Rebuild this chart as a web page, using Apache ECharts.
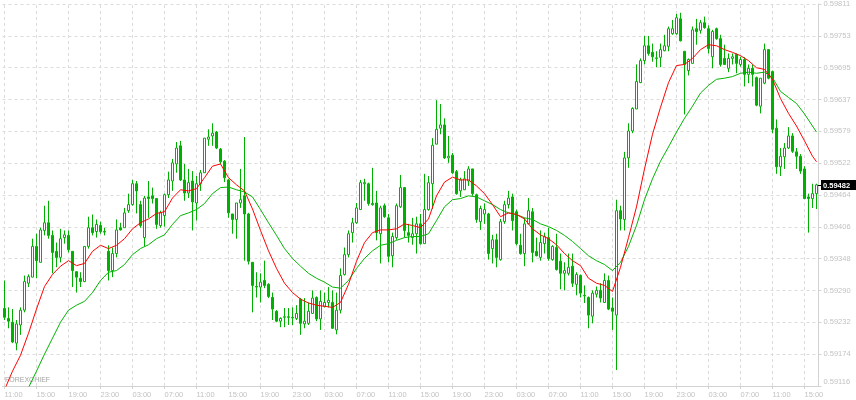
<!DOCTYPE html>
<html><head><meta charset="utf-8">
<script src="https://cdn.jsdelivr.net/npm/echarts@6/dist/echarts.min.js"></script>
<style>html,body{margin:0;padding:0;background:#fff}#c{width:856px;height:400px}</style>
</head><body><div id="c"></div>
<script>
// 30-minute bars, first bar 11:00
const opens = [
0.59257,0.59239,0.59232,0.59194,0.59227,0.59254,0.59303,0.59314,0.59370,0.59341,
0.59399,0.59413,0.59390,0.59361,0.59350,0.59386,0.59390,0.59361,0.59324,0.59312,
0.59306,0.59370,0.59404,0.59397,0.59408,0.59397,0.59361,0.59326,0.59357,0.59404,
0.59404,0.59435,0.59446,0.59484,0.59446,0.59386,0.59460,0.59462,0.59457,0.59408,
0.59426,0.59464,0.59489,0.59520,0.59553,0.59491,0.59467,0.59489,0.59449,0.59484,
0.59504,0.59565,0.59571,0.59578,0.59547,0.59525,0.59491,0.59429,0.59419,0.59449,
0.59462,0.59429,0.59341,0.59297,0.59296,0.59308,0.59301,0.59277,0.59252,0.59234,
0.59241,0.59242,0.59241,0.59239,0.59274,0.59229,0.59230,0.59248,0.59277,0.59238,
0.59261,0.59268,0.59268,0.59218,0.59254,0.59319,0.59355,0.59395,0.59413,0.59437,
0.59484,0.59484,0.59448,0.59449,0.59393,0.59444,0.59422,0.59353,0.59386,0.59442,
0.59477,0.59395,0.59386,0.59393,0.59411,0.59375,0.59437,0.59484,0.59556,0.59585,
0.59591,0.59531,0.59536,0.59506,0.59471,0.59473,0.59489,0.59511,0.59464,0.59415,
0.59429,0.59429,0.59366,0.59382,0.59346,0.59415,0.59446,0.59460,0.59433,0.59372,
0.59357,0.59411,0.59433,0.59361,0.59350,0.59375,0.59386,0.59346,0.59368,0.59343,
0.59321,0.59321,0.59334,0.59301,0.59317,0.59281,0.59277,0.59243,0.59283,0.59290,
0.59268,0.59308,0.59258,0.59245,0.59435,0.59419,0.59531,0.59580,0.59620,0.59668,
0.59708,0.59735,0.59723,0.59712,0.59714,0.59726,0.59734,0.59757,0.59757,0.59784,
0.59725,0.59690,0.59703,0.59766,0.59763,0.59777,0.59766,0.59715,0.59766,0.59748,
0.59712,0.59694,0.59712,0.59719,0.59701,0.59710,0.59683,0.59694,0.59677,0.59625,
0.59667,0.59728,0.59688,0.59585,0.59515,0.59533,0.59549,0.59571,0.59542,0.59534,
0.59511,0.59460,0.59457,0.59466];
const closes = [
0.59241,0.59234,0.59196,0.59229,0.59254,0.59306,0.59315,0.59370,0.59344,0.59400,
0.59413,0.59390,0.59359,0.59350,0.59384,0.59391,0.59364,0.59326,0.59314,0.59306,
0.59370,0.59404,0.59395,0.59410,0.59397,0.59396,0.59326,0.59357,0.59400,0.59400,
0.59431,0.59446,0.59484,0.59471,0.59408,0.59458,0.59457,0.59457,0.59410,0.59431,
0.59464,0.59491,0.59522,0.59549,0.59491,0.59467,0.59486,0.59451,0.59484,0.59504,
0.59567,0.59569,0.59576,0.59549,0.59524,0.59495,0.59431,0.59419,0.59449,0.59455,
0.59429,0.59343,0.59299,0.59296,0.59305,0.59299,0.59279,0.59256,0.59234,0.59239,
0.59242,0.59241,0.59240,0.59248,0.59230,0.59234,0.59252,0.59276,0.59238,0.59270,
0.59268,0.59272,0.59221,0.59254,0.59317,0.59355,0.59393,0.59413,0.59440,0.59486,
0.59486,0.59448,0.59446,0.59395,0.59440,0.59424,0.59352,0.59388,0.59444,0.59477,
0.59399,0.59390,0.59393,0.59411,0.59375,0.59437,0.59486,0.59554,0.59583,0.59591,
0.59531,0.59534,0.59504,0.59466,0.59491,0.59493,0.59511,0.59466,0.59419,0.59439,
0.59437,0.59357,0.59382,0.59350,0.59415,0.59446,0.59458,0.59417,0.59375,0.59357,
0.59411,0.59435,0.59359,0.59353,0.59377,0.59388,0.59348,0.59370,0.59328,0.59321,
0.59326,0.59332,0.59303,0.59319,0.59285,0.59280,0.59245,0.59285,0.59290,0.59276,
0.59308,0.59256,0.59252,0.59435,0.59420,0.59531,0.59580,0.59621,0.59670,0.59708,
0.59735,0.59721,0.59715,0.59713,0.59728,0.59735,0.59766,0.59766,0.59786,0.59744,
0.59701,0.59710,0.59764,0.59761,0.59777,0.59768,0.59730,0.59761,0.59748,0.59701,
0.59701,0.59712,0.59715,0.59703,0.59710,0.59683,0.59694,0.59683,0.59627,0.59676,
0.59728,0.59676,0.59583,0.59515,0.59534,0.59549,0.59571,0.59543,0.59534,0.59507,
0.59457,0.59457,0.59466,0.59482];
const lows = [
0.59236,0.59221,0.59194,0.59181,0.59209,0.59250,0.59296,0.59314,0.59312,0.59341,
0.59390,0.59384,0.59321,0.59332,0.59341,0.59375,0.59359,0.59296,0.59286,0.59296,
0.59305,0.59366,0.59390,0.59386,0.59393,0.59390,0.59308,0.59314,0.59350,0.59399,
0.59404,0.59431,0.59444,0.59430,0.59404,0.59370,0.59422,0.59448,0.59402,0.59404,
0.59406,0.59458,0.59471,0.59504,0.59489,0.59453,0.59458,0.59399,0.59417,0.59471,
0.59504,0.59553,0.59553,0.59547,0.59520,0.59487,0.59422,0.59393,0.59384,0.59440,
0.59344,0.59337,0.59250,0.59277,0.59268,0.59294,0.59276,0.59236,0.59232,0.59223,
0.59223,0.59227,0.59227,0.59236,0.59209,0.59221,0.59227,0.59248,0.59234,0.59218,
0.59259,0.59259,0.59220,0.59210,0.59248,0.59317,0.59350,0.59377,0.59411,0.59437,
0.59453,0.59444,0.59444,0.59381,0.59339,0.59422,0.59341,0.59332,0.59382,0.59440,
0.59386,0.59377,0.59373,0.59357,0.59373,0.59375,0.59435,0.59438,0.59556,0.59574,
0.59529,0.59522,0.59502,0.59464,0.59460,0.59473,0.59480,0.59462,0.59413,0.59400,
0.59411,0.59346,0.59339,0.59332,0.59344,0.59411,0.59439,0.59399,0.59372,0.59355,
0.59334,0.59410,0.59341,0.59352,0.59344,0.59357,0.59344,0.59344,0.59326,0.59292,
0.59290,0.59317,0.59296,0.59281,0.59277,0.59267,0.59221,0.59230,0.59277,0.59268,
0.59267,0.59254,0.59218,0.59145,0.59399,0.59399,0.59513,0.59576,0.59620,0.59667,
0.59701,0.59717,0.59706,0.59696,0.59696,0.59725,0.59725,0.59755,0.59755,0.59743,
0.59610,0.59681,0.59703,0.59737,0.59757,0.59766,0.59721,0.59694,0.59746,0.59697,
0.59701,0.59687,0.59701,0.59685,0.59697,0.59661,0.59667,0.59661,0.59625,0.59612,
0.59665,0.59674,0.59576,0.59502,0.59498,0.59511,0.59547,0.59540,0.59511,0.59502,
0.59457,0.59395,0.59440,0.59438];
const highs = [
0.59308,0.59259,0.59256,0.59236,0.59259,0.59317,0.59319,0.59384,0.59393,0.59404,
0.59444,0.59453,0.59399,0.59377,0.59402,0.59399,0.59399,0.59361,0.59324,0.59323,
0.59370,0.59424,0.59428,0.59419,0.59415,0.59404,0.59372,0.59368,0.59419,0.59413,
0.59440,0.59466,0.59491,0.59489,0.59453,0.59462,0.59489,0.59477,0.59458,0.59435,
0.59466,0.59506,0.59529,0.59560,0.59562,0.59520,0.59511,0.59507,0.59498,0.59509,
0.59567,0.59583,0.59594,0.59580,0.59549,0.59527,0.59493,0.59429,0.59449,0.59511,
0.59569,0.59431,0.59341,0.59323,0.59321,0.59344,0.59303,0.59286,0.59254,0.59241,
0.59258,0.59258,0.59259,0.59263,0.59276,0.59276,0.59268,0.59290,0.59279,0.59290,
0.59286,0.59296,0.59290,0.59286,0.59330,0.59368,0.59399,0.59422,0.59449,0.59491,
0.59493,0.59486,0.59513,0.59471,0.59444,0.59448,0.59429,0.59395,0.59448,0.59500,
0.59478,0.59411,0.59422,0.59424,0.59429,0.59502,0.59498,0.59567,0.59636,0.59629,
0.59603,0.59571,0.59540,0.59509,0.59495,0.59507,0.59516,0.59511,0.59466,0.59444,
0.59448,0.59431,0.59391,0.59393,0.59420,0.59453,0.59471,0.59466,0.59437,0.59393,
0.59422,0.59458,0.59440,0.59386,0.59399,0.59395,0.59404,0.59372,0.59393,0.59357,
0.59341,0.59357,0.59357,0.59323,0.59319,0.59299,0.59279,0.59290,0.59297,0.59303,
0.59321,0.59317,0.59277,0.59455,0.59444,0.59542,0.59594,0.59623,0.59701,0.59712,
0.59753,0.59753,0.59739,0.59725,0.59739,0.59755,0.59770,0.59782,0.59793,0.59795,
0.59725,0.59712,0.59770,0.59784,0.59782,0.59788,0.59772,0.59764,0.59768,0.59755,
0.59737,0.59721,0.59721,0.59721,0.59715,0.59714,0.59701,0.59701,0.59679,0.59676,
0.59739,0.59728,0.59690,0.59601,0.59549,0.59558,0.59587,0.59576,0.59549,0.59538,
0.59516,0.59466,0.59484,0.59484];
// moving averages at every second bar (bars 0,2,4,...,202) plus the last bar
const maFastEven = [
0.59109,0.59143,0.59172,0.59212,0.59256,0.59297,0.59319,0.59334,0.59344,0.59335,
0.59339,0.59361,0.59372,0.59366,0.59372,0.59384,0.59402,0.59413,0.59420,0.59430,
0.59433,0.59458,0.59473,0.59471,0.59475,0.59495,0.59516,0.59520,0.59495,0.59482,
0.59471,0.59438,0.59399,0.59362,0.59330,0.59303,0.59286,0.59274,0.59267,0.59263,
0.59261,0.59259,0.59268,0.59301,0.59343,0.59377,0.59395,0.59400,0.59400,0.59402,
0.59411,0.59408,0.59404,0.59420,0.59462,0.59487,0.59496,0.59491,0.59491,0.59480,
0.59466,0.59446,0.59424,0.59431,0.59428,0.59420,0.59402,0.59391,0.59384,0.59373,
0.59357,0.59344,0.59335,0.59312,0.59303,0.59299,0.59288,0.59332,0.59386,0.59442,
0.59511,0.59574,0.59623,0.59668,0.59699,0.59701,0.59712,0.59728,0.59737,0.59735,
0.59728,0.59723,0.59717,0.59708,0.59695,0.59692,0.59674,0.59639,0.59612,0.59589,
0.59562,0.59534];
const maFastLast = 0.59524;
const maSlowEven = [
0.59028,0.59057,0.59086,0.59113,0.59143,0.59174,0.59203,0.59232,0.59254,0.59263,
0.59270,0.59286,0.59308,0.59323,0.59326,0.59337,0.59355,0.59366,0.59373,0.59384,
0.59391,0.59410,0.59426,0.59431,0.59437,0.59448,0.59466,0.59477,0.59478,0.59473,
0.59469,0.59460,0.59437,0.59413,0.59390,0.59366,0.59348,0.59334,0.59321,0.59312,
0.59305,0.59296,0.59294,0.59308,0.59330,0.59348,0.59362,0.59372,0.59375,0.59381,
0.59386,0.59388,0.59388,0.59393,0.59417,0.59442,0.59455,0.59457,0.59462,0.59460,
0.59453,0.59446,0.59437,0.59431,0.59428,0.59422,0.59419,0.59411,0.59406,0.59399,
0.59390,0.59379,0.59366,0.59353,0.59344,0.59337,0.59326,0.59341,0.59370,0.59408,
0.59455,0.59493,0.59525,0.59551,0.59578,0.59603,0.59625,0.59649,0.59663,0.59674,
0.59676,0.59679,0.59685,0.59687,0.59685,0.59687,0.59677,0.59652,0.59641,0.59630,
0.59611,0.59589];
const maSlowLast = 0.59578;
const yTickLabels = ['0.59116','0.59174','0.59232','0.59290','0.59348','0.59406','0.59464',
  '0.59522','0.59579','0.59637','0.59695','0.59753','0.59811'];
const yMin = 0.59116, yMax = 0.59811;
const labelEvery = 8; // a time label every 4 hours

const N = opens.length;
const categories = [];
for (let i = 0; i < N; i++) {
  const m = 11 * 60 + 30 * i;
  const h = Math.floor(m / 60) % 24, mm = m % 60;
  categories.push(String(h).padStart(2, '0') + ':' + String(mm).padStart(2, '0'));
}
const candles = opens.map((o, i) => [o, closes[i], lows[i], highs[i]]);
const fast = categories.map((_, i) => i % 2 === 0 ? maFastEven[i / 2] : (i === N - 1 ? maFastLast : null));
const slow = categories.map((_, i) => i % 2 === 0 ? maSlowEven[i / 2] : (i === N - 1 ? maSlowLast : null));
const vGrid = [];
for (let i = 0; i < N; i += labelEvery) vGrid.push({ xAxis: i });
const lastClose = closes[N - 1];

const FONT = '"Liberation Sans", Arial, sans-serif';
const GREEN = '#00b000';
const chart = echarts.init(document.getElementById('c'), null, { renderer: 'canvas' });
const watermark = { type: 'text', left: 5, top: 377, silent: true,
  style: { text: 'FOREXCHIEF', fill: '#a4a4a4', font: '7px ' + FONT } };
chart.setOption({
  animation: false,
  backgroundColor: '#ffffff',
  grid: { left: 2.5, right: 37.5, top: 2, bottom: 14, containLabel: false },
  xAxis: {
    type: 'category', data: categories, boundaryGap: true,
    axisLine: { show: true, lineStyle: { color: '#d2d2d2', width: 1 } },
    axisTick: { show: true, alignWithLabel: true, interval: (i) => i % labelEvery === 0, length: 3,
      lineStyle: { color: '#d2d2d2' } },
    axisLabel: { interval: (i) => i % labelEvery === 0, align: 'left', margin: 5,
      color: '#c2c2c2', fontSize: 7.5, fontFamily: FONT },
    splitLine: { show: false }
  },
  yAxis: {
    type: 'value', position: 'right', min: yMin, max: yMax,
    interval: 0.0005791667,
    axisLine: { show: true, onZero: false, lineStyle: { color: '#d2d2d2', width: 1 } },
    axisTick: { show: true, length: 3, lineStyle: { color: '#d2d2d2' } },
    axisLabel: { show: true, margin: 5, color: '#c2c2c2', fontSize: 7.5, fontFamily: FONT,
      showMinLabel: true, showMaxLabel: true, verticalAlignMinLabel: 'bottom',
      formatter: (v, idx) => yTickLabels[idx] !== undefined ? yTickLabels[idx] : '' },
    splitLine: { show: true, lineStyle: { color: '#dcdcdc', type: [3, 3], width: 1 } }
  },
  graphic: [watermark],
  series: [
    { type: 'candlestick', data: candles, barWidth: 2, z: 2,
      itemStyle: { color: '#ffffff', color0: GREEN, borderColor: GREEN, borderColor0: GREEN,
        borderColorDoji: GREEN, borderWidth: 1 },
      markLine: { silent: true, z: 1, symbol: ['none', 'none'], animation: false,
        label: { show: false },
        lineStyle: { color: '#dcdcdc', type: [3, 3], width: 1 },
        emphasis: { disabled: true },
        data: vGrid } },
    { type: 'line', data: slow, connectNulls: true, symbol: 'none', z: 3,
      lineStyle: { color: '#00b400', width: 1 } },
    { type: 'line', data: fast, connectNulls: true, symbol: 'none', z: 4,
      lineStyle: { color: '#ff0000', width: 1 } }
  ]
});
// current-price tag, placed through the chart's own scales
const py = Math.round(chart.convertToPixel({ yAxisIndex: 0 }, lastClose)) + 0.5;
const px = chart.convertToPixel({ xAxisIndex: 0 }, N - 1);
chart.setOption({
  graphic: [watermark,
    { type: 'line', silent: true, z: 20,
      shape: { x1: px + 1.5, y1: py, x2: 822, y2: py }, style: { stroke: '#000', lineWidth: 1 } },
    { type: 'rect', silent: true, z: 20,
      shape: { x: 821, y: py - 5.5, width: 35, height: 10 }, style: { fill: '#000' } },
    { type: 'text', silent: true, z: 21, x: 823, y: py,
      style: { text: lastClose.toFixed(5), fill: '#ffffff', font: 'bold 7.5px ' + FONT,
        verticalAlign: 'middle', align: 'left' } }
  ]
});
</script>
</body></html>
